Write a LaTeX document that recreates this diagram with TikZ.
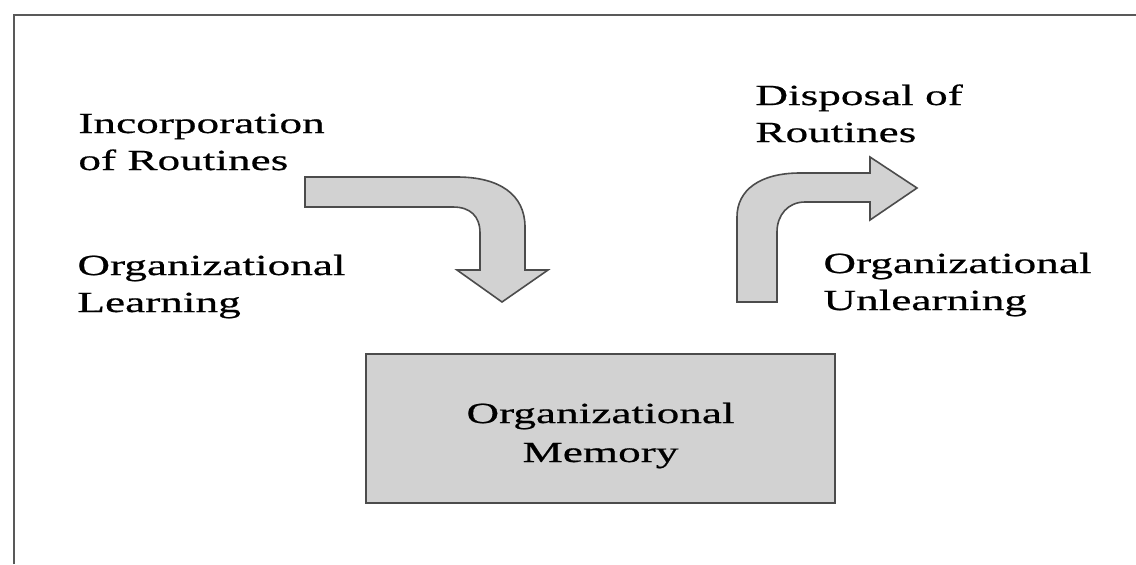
\documentclass[tikz,border=0pt]{standalone}
\usepackage{fontspec}
\setmainfont{Liberation Serif}[FakeStretch=1.55,FakeBold=0.6]
\begin{document}
\begin{tikzpicture}[x=0.5pt,y=-0.5pt,
  lbl/.style={anchor=base west,align=left,inner sep=0pt,font=\fontsize{14.6}{18.5}\selectfont},
  block/.style={draw=black!70,line width=0.8pt,fill=gray!35}]
  \useasboundingbox (0,0) rectangle (1136,564);
  \draw[black!65,line width=1pt] (14,564) -- (14,15) -- (1136,15);

  % base anchor sits on the last line
  \node[lbl] (incorp) at (78,170) {Incorporation\\of Routines};
  \node[lbl] (learn) at (77,312) {Organizational\\Learning};
  \node[lbl] (dispose) at (755,142) {Disposal of\\Routines};
  \node[lbl] (unlearn) at (823,310) {Organizational\\Unlearning};

  \draw[block] (366,354) rectangle (835,503);
  \node[align=center,inner sep=0pt,font=\fontsize{14.6}{19.5}\selectfont,anchor=base]
    (memory) at (600.5,462) {Organizational\\Memory};

  % learning arrow, bends down
  \draw[block] (305,177) -- (457,177) .. controls (500,177) and (525,195) .. (525,227)
    -- (525,270) -- (548,270) -- (502,302) -- (457,270) -- (480,270) -- (480,233)
    .. controls (480,216) and (470,207) .. (453,207) -- (305,207) -- cycle;

  % unlearning arrow, bends right
  \draw[block] (737,302) -- (737,217) .. controls (737,190) and (760,173) .. (800,173)
    -- (870,173) -- (870,157) -- (917,188) -- (870,220) -- (870,202) -- (805,202)
    .. controls (788,202) and (777,215) .. (777,232) -- (777,302) -- cycle;
\end{tikzpicture}
\end{document}
